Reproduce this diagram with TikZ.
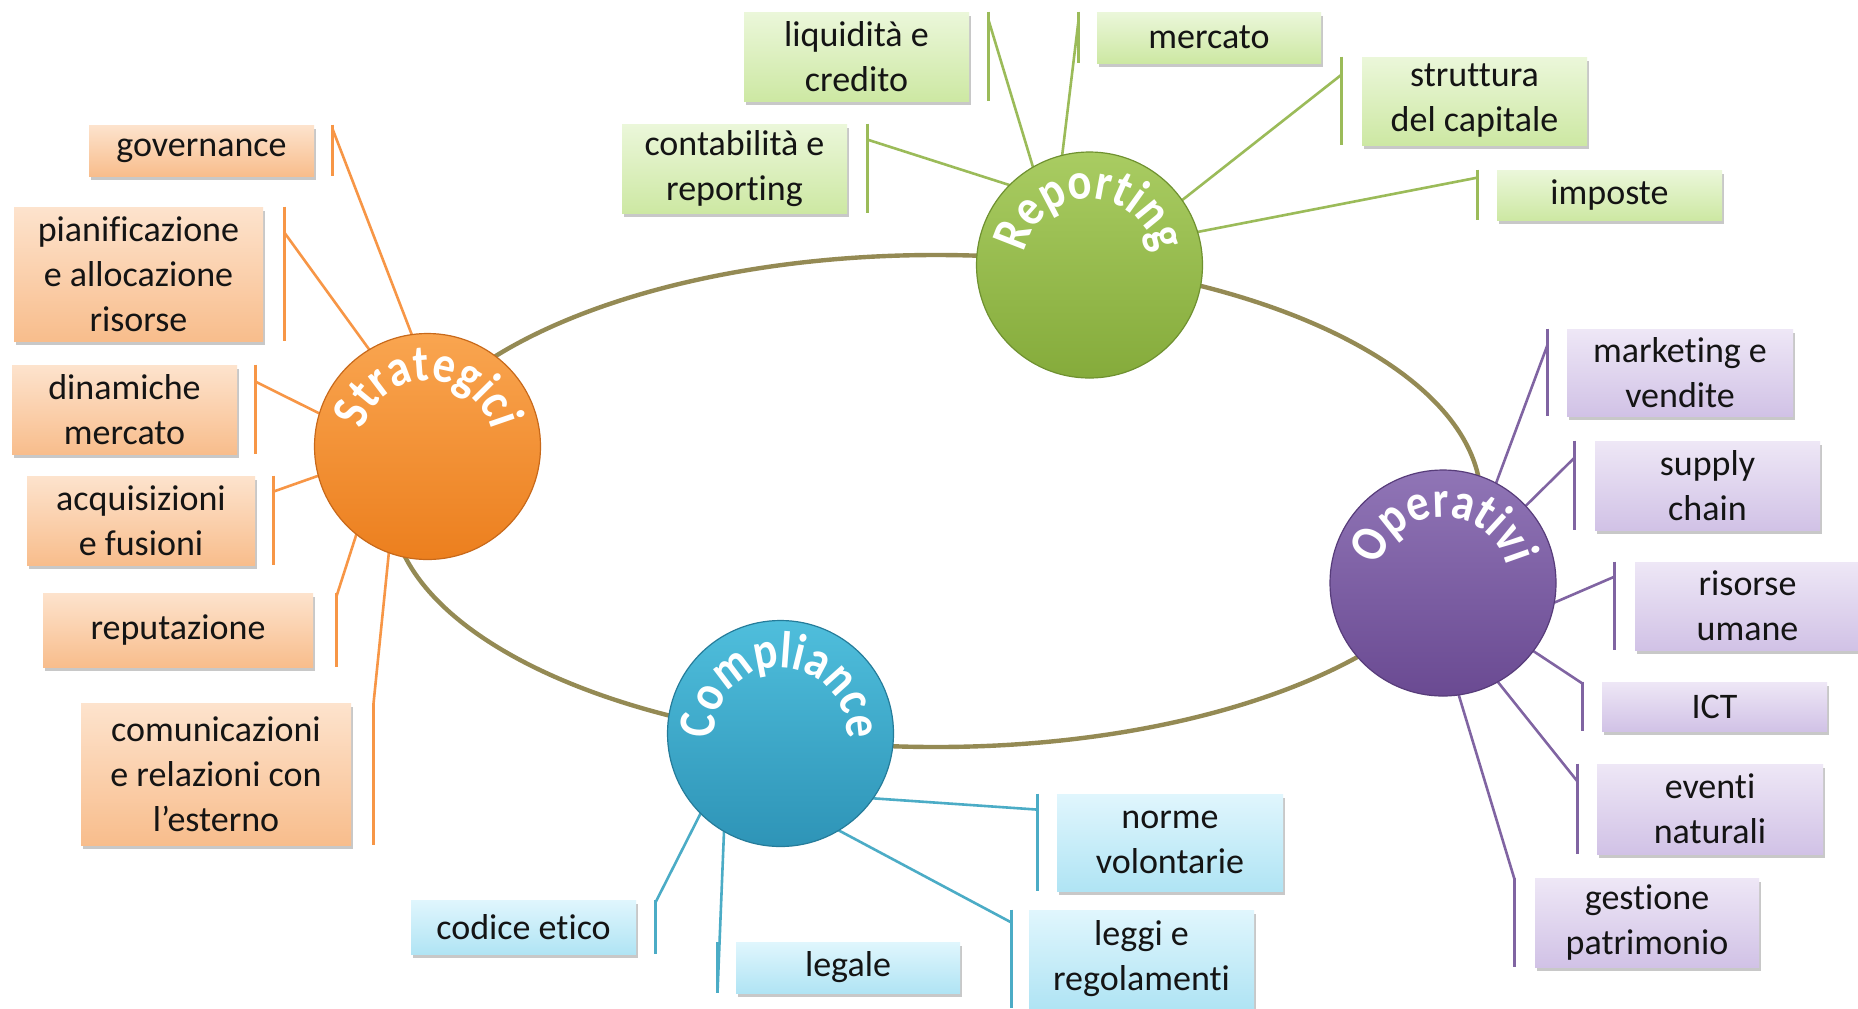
\documentclass[tikz,border=0pt]{standalone}
\usepackage{fontspec}
\setmainfont{Carlito}[Ligatures=NoCommon]
\newfontfamily\arcfont{Carlito}[FakeStretch=0.86, Ligatures=NoCommon]
\usetikzlibrary{shadows,decorations.text,calc}
\pgfdeclarelayer{back}
\pgfdeclarelayer{bg}
\pgfsetlayers{back,bg,main}

\definecolor{oLine}{HTML}{F79646}
\definecolor{gLine}{HTML}{9BBB59}
\definecolor{pLine}{HTML}{8064A2}
\definecolor{bLine}{HTML}{4BACC6}
\definecolor{ringC}{HTML}{948A54}
\definecolor{oT}{HTML}{FDE3CD}
\definecolor{oB}{HTML}{F8BD8C}
\definecolor{gT}{HTML}{EBF7DA}
\definecolor{gB}{HTML}{CDE8A3}
\definecolor{pT}{HTML}{EEE7F6}
\definecolor{pB}{HTML}{D1C2E6}
\definecolor{bT}{HTML}{E0F6FD}
\definecolor{bB}{HTML}{B0E4F4}
\definecolor{sT}{HTML}{F9A550}
\definecolor{sB}{HTML}{EC7F1E}
\definecolor{sD}{HTML}{C8691A}
\definecolor{rT}{HTML}{A9CC62}
\definecolor{rB}{HTML}{85AB3B}
\definecolor{rD}{HTML}{6F9130}
\definecolor{vT}{HTML}{9075B6}
\definecolor{vB}{HTML}{6A4A92}
\definecolor{vD}{HTML}{573C7A}
\definecolor{cT}{HTML}{4FBEDC}
\definecolor{cB}{HTML}{2E94B7}
\definecolor{cD}{HTML}{257C9A}

\newcommand\balltext{\color{white}\arcfont\bfseries\fontsize{26pt}{26pt}\selectfont}

\begin{document}
\begin{tikzpicture}[x=0.5pt,y=-0.5pt,
  boxbase/.style={inner sep=0pt, align=center, font=\fontsize{18pt}{22.5pt}\selectfont,
    text=black!92, drop shadow={shadow xshift=1.2pt, shadow yshift=-2pt, opacity=0.3, fill=black!70}},
  boxO/.style={boxbase, top color=oT, bottom color=oB},
  boxG/.style={boxbase, top color=gT, bottom color=gB},
  boxP/.style={boxbase, top color=pT, bottom color=pB},
  boxB/.style={boxbase, top color=bT, bottom color=bB},
  ball/.style={circle, inner sep=0pt, outer sep=0pt, minimum size=113pt, line width=0.6pt},
  lnO/.style={draw=oLine, line width=1.3pt},
  lnG/.style={draw=gLine, line width=1.3pt},
  lnP/.style={draw=pLine, line width=1.3pt},
  lnB/.style={draw=bLine, line width=1.3pt},
  ring/.style={draw=ringC, line width=2.2pt}
]
\useasboundingbox (0,0) rectangle (1858,1008);
\begin{pgfonlayer}{back}
\fill[white] (0,0) rectangle (1858,1008);
\end{pgfonlayer}

% orange boxes
\node[boxO, minimum width=112.5pt, minimum height=25.5pt] (gov) at (201.5,150.5) {governance};
\node[boxO, minimum width=124.5pt, minimum height=67pt] (pia) at (138.5,274) {pianificazione\\e allocazione\\risorse};
\node[boxO, minimum width=112.5pt, minimum height=44.5pt] (din) at (124.5,409.5) {dinamiche\\mercato};
\node[boxO, minimum width=114pt, minimum height=44.5pt] (acq) at (141,520.5) {acquisizioni\\e fusioni};
\node[boxO, minimum width=135pt, minimum height=37pt] (rep) at (178,630) {reputazione};
\node[boxO, minimum width=135pt, minimum height=71pt] (com) at (216,774) {comunicazioni\\e relazioni con\\l’esterno};

% green boxes
\node[boxG, minimum width=112.5pt, minimum height=44.5pt] (liq) at (856.5,56.5) {liquidità e\\credito};
\node[boxG, minimum width=112pt, minimum height=25.5pt] (mer) at (1209,37.5) {mercato};
\node[boxG, minimum width=112.5pt, minimum height=44.5pt] (con) at (734.5,168.5) {contabilità e\\reporting};
\node[boxG, minimum width=112.5pt, minimum height=44pt] (str) at (1474.5,101) {struttura\\del capitale};
\node[boxG, minimum width=112.5pt, minimum height=25pt] (imp) at (1609.5,195) {imposte};

% purple boxes
\node[boxP, minimum width=113pt, minimum height=43.5pt] (mar) at (1680,372.5) {marketing e\\vendite};
\node[boxP, minimum width=112.5pt, minimum height=44.5pt] (sup) at (1707.5,485.5) {supply\\chain};
\node[boxP, minimum width=112.5pt, minimum height=44pt] (ris) at (1747.5,606) {risorse\\umane};
\node[boxP, minimum width=112.5pt, minimum height=24.5pt] (ict) at (1714.5,706.5) {ICT};
\node[boxP, minimum width=113pt, minimum height=45pt] (eve) at (1710,809) {eventi\\naturali};
\node[boxP, minimum width=112pt, minimum height=44.5pt] (ges) at (1647,922.5) {gestione\\patrimonio};

% blue boxes
\node[boxB, minimum width=112.5pt, minimum height=27pt] (cod) at (523.5,927) {codice etico};
\node[boxB, minimum width=112pt, minimum height=25.5pt] (leg) at (848,967.5) {legale};
\node[boxB, minimum width=113pt, minimum height=48.5pt] (nor) at (1170,842.5) {norme\\volontarie};
\node[boxB, minimum width=112.5pt, minimum height=49pt] (lgg) at (1141.5,959) {leggi e\\regolamenti};

% circles
\node[ball, top color=sT, bottom color=sB, draw=sD] (S) at (427.5,446.5) {};
\node[ball, top color=rT, bottom color=rB, draw=rD] (R) at (1089.5,265) {};
\node[ball, top color=vT, bottom color=vB, draw=vD] (O) at (1443,583) {};
\node[ball, top color=cT, bottom color=cB, draw=cD] (C) at (780.5,733.5) {};

% curved titles
\foreach \n/\t in {S/Strategici, R/Reporting, O/Operativi, C/Compliance}{
  \begin{scope}[shift={(\n.center)}, x=1pt, y=1pt]
    \path[decorate, decoration={text along path, text align=center,
      text={|\balltext|\t}}] (220:33) arc[start angle=220, end angle=-40, radius=33];
  \end{scope}
}

% attachment points on the bars
\coordinate (govm) at ([xshift=9pt,yshift=-2pt]gov.north east);
\coordinate (piam) at ([xshift=10.5pt,yshift=-13pt]pia.north east);
\coordinate (dinm) at ([xshift=9pt,yshift=-8.5pt]din.north east);
\coordinate (acqm) at ([xshift=9pt,yshift=-8pt]acq.north east);
\coordinate (repm) at ([xshift=11.5pt,yshift=-2pt]rep.north east);
\coordinate (comm) at ([xshift=11pt,yshift=-1pt]com.north east);

\coordinate (liqm) at ([xshift=9.5pt,yshift=-4pt]liq.north east);
\coordinate (merm) at ([xshift=-9pt,yshift=-4pt]mer.north west);
\coordinate (conm) at ([xshift=10pt,yshift=-8pt]con.north east);
\coordinate (strm) at ([xshift=-10pt,yshift=-9pt]str.north west);
\coordinate (impm) at ([xshift=-9.5pt,yshift=-4pt]imp.north west);

\coordinate (marm) at ([xshift=-9.5pt,yshift=-8pt]mar.north west);
\coordinate (supm) at ([xshift=-10pt,yshift=-8.5pt]sup.north west);
\coordinate (rism) at ([xshift=-10pt,yshift=-7.5pt]ris.north west);
\coordinate (ictm) at ([xshift=-9.5pt,yshift=-1pt]ict.north west);
\coordinate (evem) at ([xshift=-9.5pt,yshift=-9pt]eve.north west);
\coordinate (gesm) at ([xshift=-10pt,yshift=-1pt]ges.north west);

\coordinate (codm) at ([xshift=9.5pt,yshift=-1.5pt]cod.north east);
\coordinate (legm) at ([xshift=-9pt,yshift=1.5pt]leg.south west);
\coordinate (norm) at ([xshift=-9.5pt,yshift=-8pt]nor.north west);
\coordinate (lggm) at ([xshift=-8.5pt,yshift=-6.5pt]lgg.north west);

\begin{pgfonlayer}{bg}
  \draw[ring] (936,501) ellipse [x radius=545, y radius=246];

  % bars
  \foreach \b/\d in {gov/9pt, pia/10.5pt, din/9pt, acq/9pt, rep/11.5pt, com/11pt}
    \draw[lnO] ([xshift=\d]\b.north east) -- ([xshift=\d]\b.south east);
  \foreach \b/\d in {liq/9.5pt, con/10pt}
    \draw[lnG] ([xshift=\d]\b.north east) -- ([xshift=\d]\b.south east);
  \foreach \b/\d in {mer/-9pt, str/-10pt, imp/-9.5pt}
    \draw[lnG] ([xshift=\d]\b.north west) -- ([xshift=\d]\b.south west);
  \foreach \b/\d in {mar/-9.5pt, sup/-10pt, ris/-10pt, ict/-9.5pt, eve/-9.5pt, ges/-10pt}
    \draw[lnP] ([xshift=\d]\b.north west) -- ([xshift=\d]\b.south west);
  \draw[lnB] ([xshift=9.5pt]cod.north east) -- ([xshift=9.5pt]cod.south east);
  \foreach \b/\d in {leg/-9pt, nor/-9.5pt, lgg/-8.5pt}
    \draw[lnB] ([xshift=\d]\b.north west) -- ([xshift=\d]\b.south west);

  % connectors
  \draw[lnO] (S.98) -- (govm);
  \draw[lnO] (S.121) -- (piam);
  \draw[lnO] (S.163) -- (dinm);
  \draw[lnO] (S.195) -- (acqm);
  \draw[lnO] (S.231) -- (repm);
  \draw[lnO] (S.250) -- (comm);

  \draw[lnG] (R.120) -- (liqm);
  \draw[lnG] (R.104) -- (merm);
  \draw[lnG] (R.135) -- (conm);
  \draw[lnG] (R.35) -- (strm);
  \draw[lnG] (R.17) -- (impm);

  \draw[lnP] (O.62) -- (marm);
  \draw[lnP] (O.43) -- (supm);
  \draw[lnP] (O.-10) -- (rism);
  \draw[lnP] (O.-37) -- (ictm);
  \draw[lnP] (O.-61) -- (evem);
  \draw[lnP] (O.-82) -- (gesm);

  \draw[lnB] (C.225) -- (codm);
  \draw[lnB] (C.240) -- (legm);
  \draw[lnB] (C.-35) -- (norm);
  \draw[lnB] (C.-59) -- (lggm);
\end{pgfonlayer}
\end{tikzpicture}
\end{document}
